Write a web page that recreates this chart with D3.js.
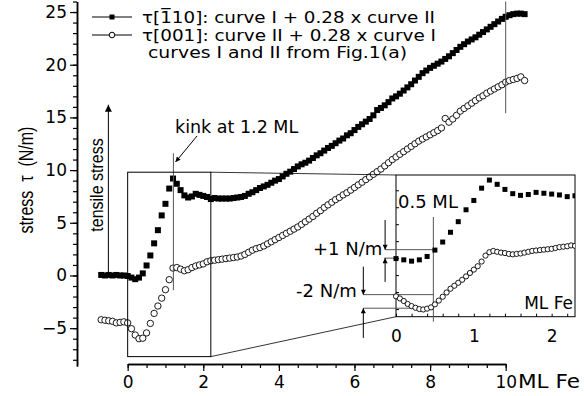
<!DOCTYPE html>
<html>
<head>
<meta charset="utf-8">
<script src="https://cdn.jsdelivr.net/npm/d3@7"></script>
<style>
  body { margin: 0; background: #fff; }
  text { font-family: "DejaVu Sans", sans-serif; fill: #000; }
</style>
</head>
<body>
<div id="chart"></div>
<script>
// tau[-110] : curve I + 0.28 x curve II  (filled squares)  [ML Fe, N/m]
var tau110 = [
  [-0.7,0.05],[-0.6,0.0],[-0.5,0.05],[-0.4,0.0],[-0.3,0.05],[-0.2,0.0],[-0.1,0.0],
  [0.0,-0.05],[0.1,-0.2],[0.2,-0.35],[0.3,-0.2],[0.4,0.2],[0.5,0.95],[0.6,1.9],
  [0.7,3.05],[0.8,4.3],[0.9,5.7],[1.0,6.8],[1.1,8.25],[1.2,9.2],[1.3,8.7],[1.4,8.1],
  [1.5,7.6],[1.6,7.4],[1.7,7.5],[1.8,7.75],[1.9,7.65],[2.0,7.55],[2.1,7.45],[2.2,7.25],
  [2.3,7.35],[2.4,7.3],[2.5,7.3],[2.6,7.3],[2.7,7.3],[2.8,7.35],[2.9,7.4],[3.0,7.45],
  [3.1,7.55],[3.2,7.75],[3.3,7.9],[3.4,8.1],[3.5,8.3],[3.6,8.45],[3.7,8.6],[3.8,8.8],
  [3.9,9.0],[4.0,9.15],[4.1,9.4],[4.2,9.65],[4.3,9.85],[4.4,10.1],[4.5,10.35],[4.6,10.55],
  [4.7,10.7],[4.8,10.9],[4.9,11.15],[5.0,11.4],[5.1,11.6],[5.2,11.85],[5.3,12.1],[5.4,12.3],
  [5.5,12.55],[5.6,12.8],[5.7,13.0],[5.8,13.3],[5.9,13.5],[6.0,13.8],[6.1,14.1],[6.2,14.35],
  [6.3,14.6],[6.4,14.85],[6.5,15.2],[6.6,15.7],[6.7,15.9],[6.8,16.15],[6.9,16.45],[7.0,16.8],
  [7.1,17.0],[7.2,17.25],[7.3,17.55],[7.4,17.85],[7.5,18.15],[7.6,18.5],[7.7,18.85],[7.8,19.2],
  [7.9,19.45],[8.0,19.7],[8.1,19.9],[8.2,20.1],[8.3,20.3],[8.4,20.55],[8.5,20.8],[8.6,21.1],
  [8.7,21.4],[8.8,21.7],[8.9,21.95],[9.0,22.2],[9.1,22.4],[9.2,22.6],[9.3,22.85],[9.4,23.1],
  [9.5,23.35],[9.6,23.6],[9.7,23.85],[9.8,24.1],[9.9,24.35],[10.0,24.55],[10.1,24.7],
  [10.2,24.8],[10.3,24.85],[10.4,24.85],[10.5,24.8]
];

// tau[001] : curve II + 0.28 x curve I  (open circles)
var tau001 = [
  [-0.7,-4.2],[-0.65,-4.3],[-0.6,-4.25],[-0.55,-4.4],[-0.5,-4.3],[-0.45,-4.45],[-0.4,-4.35],
  [-0.35,-4.4],[-0.3,-4.5],[-0.25,-4.35],[-0.2,-4.45],[-0.15,-4.6],[-0.1,-4.4],[-0.05,-4.5],
  [0.0,-4.5],[0.05,-4.75],[0.1,-5.05],[0.15,-5.4],[0.2,-5.65],[0.25,-5.85],[0.3,-6.0],
  [0.35,-6.05],[0.4,-5.95],[0.45,-5.8],[0.5,-5.45],[0.55,-5.0],[0.6,-4.55],[0.65,-4.05],
  [0.7,-3.6],[0.75,-3.25],[0.8,-2.9],[0.85,-2.55],[0.9,-2.15],[0.95,-1.75],[1.0,-1.35],
  [1.05,-0.95],[1.1,-0.4],[1.15,0.3],[1.2,0.7],[1.25,0.85],[1.3,0.75],[1.35,0.65],[1.4,0.6],
  [1.45,0.5],[1.5,0.45],[1.55,0.5],[1.6,0.55],[1.65,0.65],[1.7,0.75],[1.75,0.85],[1.8,0.9],
  [1.85,0.95],[1.9,1.0],[1.95,1.05],[2.0,1.1],[2.05,1.2],[2.1,1.3],[2.15,1.35],[2.2,1.4],
  [2.25,1.5],[2.3,1.45],[2.35,1.5],[2.4,1.5],
  [2.5,1.55],[2.6,1.6],[2.7,1.65],[2.8,1.7],[2.9,1.75],[3.0,1.85],[3.1,2.0],[3.2,2.2],
  [3.3,2.4],[3.4,2.55],[3.5,2.65],[3.6,2.8],[3.7,3.0],[3.8,3.2],[3.9,3.4],[4.0,3.6],
  [4.1,3.8],[4.2,4.0],[4.3,4.2],[4.4,4.4],[4.5,4.6],[4.6,4.85],[4.7,5.1],[4.8,5.35],
  [4.9,5.6],[5.0,5.9],[5.1,6.15],[5.2,6.45],[5.3,6.7],[5.4,6.95],[5.5,7.2],[5.6,7.4],
  [5.7,7.65],[5.8,7.85],[5.9,8.1],[6.0,8.35],[6.1,8.6],[6.2,8.85],[6.3,9.1],[6.4,9.35],
  [6.5,9.6],[6.6,9.85],[6.7,10.1],[6.8,10.4],[6.9,10.7],[7.0,11.0],[7.1,11.25],[7.2,11.5],
  [7.3,11.75],[7.4,12.0],[7.5,12.25],[7.6,12.5],[7.7,12.75],[7.8,12.95],[7.9,13.15],
  [8.0,13.35],[8.1,13.55],[8.2,13.75],[8.3,14.0],[8.4,14.9],[8.5,14.55],[8.6,14.85],
  [8.7,15.2],[8.8,15.6],[8.9,15.85],[9.0,16.1],[9.1,16.35],[9.2,16.6],[9.3,16.85],
  [9.4,17.05],[9.5,17.3],[9.6,17.5],[9.7,17.7],[9.8,17.9],[9.9,18.1],[10.0,18.35],
  [10.1,18.5],[10.2,18.6],[10.3,18.7],[10.4,18.85],[10.5,18.5]
];

var legendLabels = [
  "\u03c4[1\u0305" + "10]: curve I + 0.28 x curve II",
  "\u03c4[001]: curve II + 0.28 x curve I",
  "curves I and II from Fig.1(a)"
];
var yMajorTicks = [-5, 0, 5, 10, 15, 20, 25];
var xMajorTicks = [0, 2, 4, 6, 8, 10];
var insetTicks = [0, 1, 2];

var width = 584, height = 396;

var svg = d3.select("#chart").append("svg")
  .attr("width", width).attr("height", height);

var defs = svg.append("defs");
defs.append("marker").attr("id", "head")
  .attr("viewBox", "0 0 10 10").attr("refX", 10).attr("refY", 5)
  .attr("markerUnits", "userSpaceOnUse")
  .attr("markerWidth", 9).attr("markerHeight", 7)
  .attr("orient", "auto")
  .append("path").attr("d", "M0,0L10,5L0,10z").attr("fill", "#000");
defs.append("marker").attr("id", "headSmall")
  .attr("viewBox", "0 0 10 10").attr("refX", 10).attr("refY", 5)
  .attr("markerUnits", "userSpaceOnUse")
  .attr("markerWidth", 7).attr("markerHeight", 5)
  .attr("orient", "auto")
  .append("path").attr("d", "M0,0L10,5L0,10z").attr("fill", "#000");

// main scales
var x = d3.scaleLinear().domain([-1.34, 10]).range([77, 505.7]);
var y = d3.scaleLinear().domain([-8.6, 26]).range([366.1, 1.5]);

// ---- y axis
svg.append("g").attr("transform", "translate(77,0)")
  .call(d3.axisLeft(y).tickValues(d3.range(-8, 27, 1)).tickSize(4).tickSizeOuter(0).tickFormat(""));
var yAxis = svg.append("g").attr("transform", "translate(77,0)")
  .call(d3.axisLeft(y).tickValues(yMajorTicks).tickSize(7).tickSizeOuter(0).tickPadding(3));
yAxis.selectAll("text").attr("font-size", 17).attr("font-family", "DejaVu Sans");

// ---- x axis, drawn only from 0 to 10
var xa = x.copy().domain([0, 10]).range([x(0), x(10)]);
var xAxisY = 364;
svg.append("g").attr("transform", "translate(0," + xAxisY + ")")
  .call(d3.axisBottom(xa).tickValues(d3.range(0, 10.01, 0.5)).tickSize(4).tickSizeOuter(0).tickFormat(""));
var xAxis = svg.append("g").attr("transform", "translate(0," + xAxisY + ")")
  .call(d3.axisBottom(xa).tickValues(xMajorTicks).tickSize(7).tickSizeOuter(0).tickPadding(5));
xAxis.selectAll("text").attr("font-size", 17).attr("font-family", "DejaVu Sans");

svg.selectAll(".domain").attr("stroke-width", 1.5);
svg.selectAll(".tick line").attr("stroke-width", 1.2);

svg.append("text").attr("x", 518).attr("y", 388).attr("font-size", 20)
  .attr("textLength", 62).attr("lengthAdjust", "spacingAndGlyphs").text("ML Fe");

svg.append("text")
  .attr("transform", "translate(33,180) rotate(-90) scale(1,1.25)")
  .attr("text-anchor", "middle").attr("font-size", 16)
  .style("font-family", "'Liberation Sans', Arial, sans-serif")
  .text("stress \u00a0\u03c4\u00a0 (N/m)");

// ---- main data
var main = svg.append("g");
main.selectAll(".c").data(tau001.filter(function(d) { return Math.round(d[0] * 100) % 10 === 0; }))
  .enter().append("circle").attr("class", "c")
  .attr("cx", function(d) { return x(d[0]); })
  .attr("cy", function(d) { return y(d[1]); })
  .attr("r", 3.2).attr("fill", "#fff").attr("stroke", "#000").attr("stroke-width", 0.9);
main.selectAll(".s").data(tau110)
  .enter().append("rect").attr("class", "s")
  .attr("x", function(d) { return x(d[0]) - 3; })
  .attr("y", function(d) { return y(d[1]) - 3; })
  .attr("width", 6).attr("height", 6).attr("fill", "#000");

// ---- legend
var legend = svg.append("g");
var legendRows = [[17, "sq", 142, 293, 22.5], [35, "ci", 142, 294, 40.5], [53, null, 148, 259, 58.3]];
legendRows.forEach(function(l, i) {
  if (l[1]) {
    legend.append("line").attr("x1", 92).attr("x2", 132).attr("y1", l[0]).attr("y2", l[0])
      .attr("stroke", "#000").attr("stroke-width", 1);
  }
  if (l[1] === "sq") {
    legend.append("rect").attr("x", 109.5).attr("y", l[0] - 2.5).attr("width", 5).attr("height", 5);
  } else if (l[1] === "ci") {
    legend.append("circle").attr("cx", 112).attr("cy", l[0]).attr("r", 2.8)
      .attr("fill", "#fff").attr("stroke", "#000");
  }
  legend.append("text").attr("x", l[2]).attr("y", l[4]).attr("font-size", 15)
    .attr("textLength", l[3]).attr("lengthAdjust", "spacingAndGlyphs")
    .text(legendLabels[i]);
});

// ---- annotations on main plot
var grey = "#555";
svg.append("line").attr("x1", x(-0.51)).attr("x2", x(-0.51)).attr("y1", y(0)).attr("y2", y(16.2))
  .attr("stroke", "#000").attr("stroke-width", 1).attr("marker-end", "url(#head)");
svg.append("text")
  .attr("transform", "translate(103,185) rotate(-90) scale(1,1.15)")
  .attr("text-anchor", "middle").attr("font-size", 16)
  .style("font-family", "'Liberation Sans', Arial, sans-serif")
  .text("tensile stress");

svg.append("line").attr("x1", x(1.21)).attr("x2", x(1.21)).attr("y1", y(11.6)).attr("y2", y(-1.4))
  .attr("stroke", grey).attr("stroke-width", 1);
svg.append("line").attr("x1", 197).attr("y1", 136).attr("x2", 175.5).attr("y2", 162)
  .attr("stroke", "#000").attr("stroke-width", 1).attr("marker-end", "url(#headSmall)");
svg.append("text").attr("x", 175).attr("y", 133).attr("font-size", 17.5).text("kink at 1.2 ML");

svg.append("line").attr("x1", x(10)).attr("x2", x(10)).attr("y1", y(26)).attr("y2", y(15.4))
  .attr("stroke", grey).attr("stroke-width", 1);

// zoom source rectangle
var src = { x0: 0, x1: 2.2, y0: -7.7, y1: 9.8 };
svg.append("rect").attr("x", x(src.x0)).attr("y", y(src.y1))
  .attr("width", x(src.x1) - x(src.x0)).attr("height", y(src.y0) - y(src.y1))
  .attr("fill", "none").attr("stroke", "#000").attr("stroke-width", 1);

// ---- inset
var ix = d3.scaleLinear().domain([0, 2.3]).range([396, 575]);
var iy = d3.scaleLinear().domain([-6.9, 9.8]).range([316.7, 175]);

svg.append("line").attr("x1", x(src.x1)).attr("y1", y(src.y1)).attr("x2", ix(0)).attr("y2", iy(9.8))
  .attr("stroke", "#000").attr("stroke-width", 0.8);
svg.append("line").attr("x1", x(src.x1)).attr("y1", y(src.y0)).attr("x2", ix(0)).attr("y2", iy(-6.9))
  .attr("stroke", "#000").attr("stroke-width", 0.8);

defs.append("clipPath").attr("id", "insetClip").append("rect")
  .attr("x", ix(0) - 3).attr("y", iy(9.8)).attr("width", ix(2.3) - ix(0) + 3).attr("height", iy(-6.9) - iy(9.8));

var inset = svg.append("g");
inset.append("rect").attr("x", ix(0)).attr("y", iy(9.8))
  .attr("width", ix(2.3) - ix(0)).attr("height", iy(-6.9) - iy(9.8))
  .attr("fill", "#fff").attr("stroke", "#000").attr("stroke-width", 1);

// inset ticks (inward)
inset.append("g").attr("transform", "translate(0," + iy(-6.9) + ")")
  .call(d3.axisTop(ix).tickValues(d3.range(0, 2.31, 0.2)).tickSize(3).tickSizeOuter(0).tickFormat(""))
  .call(function(g) { g.select(".domain").remove(); });
inset.append("g").attr("transform", "translate(0," + iy(-6.9) + ")")
  .call(d3.axisBottom(ix).tickValues(insetTicks).tickSize(0).tickPadding(8).tickSizeOuter(0)
    .tickFormat(d3.format("d")))
  .call(function(g) { g.select(".domain").remove(); })
  .selectAll("text").attr("font-size", 17).attr("font-family", "DejaVu Sans").attr("dy", "1.0em");
inset.append("g").attr("transform", "translate(" + ix(0) + ",0)")
  .call(d3.axisRight(iy).tickValues(d3.range(-6, 9.9, 2)).tickSize(3).tickSizeOuter(0).tickFormat(""))
  .call(function(g) { g.select(".domain").remove(); });

// inset annotations
function seg(x1, v1, x2, v2, marker) {
  var l = inset.append("line")
    .attr("x1", ix(x1)).attr("y1", iy(v1)).attr("x2", ix(x2)).attr("y2", iy(v2))
    .attr("stroke", marker ? "#000" : grey).attr("stroke-width", 1);
  if (marker) l.attr("marker-end", "url(#headSmall)");
}
seg(0.48, 4.85, 0.48, -7.5);
seg(-0.14, 1, 0.48, 1);
seg(-0.15, 0, 0, 0);
seg(-0.14, 4.5, -0.14, 1, true);
seg(-0.14, -2.8, -0.14, 0, true);
seg(-0.42, -4.3, 0.48, -4.3);
seg(-0.42, -5.9, 0.48, -5.9);
seg(-0.42, -1.0, -0.42, -4.3, true);
seg(-0.42, -9.4, -0.42, -5.9, true);

var idata = inset.append("g").attr("clip-path", "url(#insetClip)");
idata.selectAll("circle").data(tau001.filter(function(d) { return d[0] >= 0 && d[0] <= 2.3; }))
  .enter().append("circle")
  .attr("cx", function(d) { return ix(d[0]); })
  .attr("cy", function(d) { return iy(d[1]); })
  .attr("r", 2.6).attr("fill", "#fff").attr("stroke", "#000").attr("stroke-width", 0.9);
idata.selectAll("rect").data(tau110.filter(function(d) { return d[0] >= 0 && d[0] <= 2.3; }))
  .enter().append("rect")
  .attr("x", function(d) { return ix(d[0]) - 2.5; })
  .attr("y", function(d) { return iy(d[1]) - 2.5; })
  .attr("width", 5).attr("height", 5).attr("fill", "#000");

inset.append("text").attr("x", 398).attr("y", 208).attr("font-size", 18).text("0.5 ML");
inset.append("text").attr("x", 313).attr("y", 255).attr("font-size", 18).text("+1 N/m");
inset.append("text").attr("x", 296).attr("y", 297).attr("font-size", 18).text("-2 N/m");
inset.append("text").attr("x", 573).attr("y", 309).attr("text-anchor", "end").attr("font-size", 17).text("ML Fe");
</script>
</body>
</html>
